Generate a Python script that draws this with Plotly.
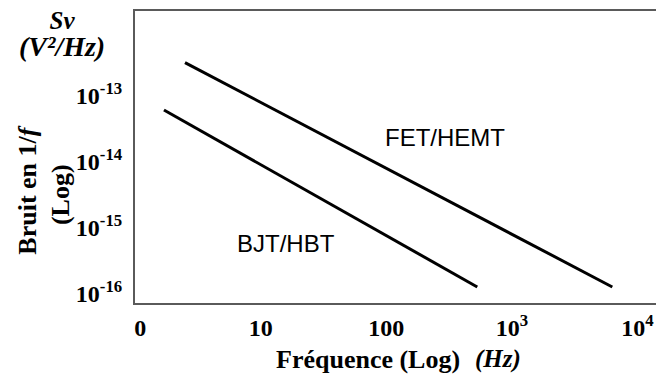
import plotly.graph_objects as go

# Axis ticks (frequency in Hz, noise density in V²/Hz)
freq_ticks = [1.1, 10, 100, 1000, 10000]
freq_labels = ["0", "10", "100", "10<sup>3</sup>", "10<sup>4</sup>"]
sv_ticks = [1e-13, 1e-14, 1e-15, 1e-16]
sv_labels = ["10<sup>-13</sup>", "10<sup>-14</sup>", "10<sup>-15</sup>", "10<sup>-16</sup>"]

# 1/f noise asymptotes for the two device families
fet_freq = [2.5, 6300]
fet_sv = [3.2e-13, 1.26e-16]
bjt_freq = [1.7, 530]
bjt_sv = [6.1e-14, 1.26e-16]

SERIF = "Liberation Serif"
SANS = "Liberation Sans"
FRAME = "#5a5a5a"

fig = go.Figure()
fig.add_trace(go.Scatter(x=fet_freq, y=fet_sv, mode="lines",
                         line=dict(color="black", width=3), hoverinfo="skip"))
fig.add_trace(go.Scatter(x=bjt_freq, y=bjt_sv, mode="lines",
                         line=dict(color="black", width=3), hoverinfo="skip"))

fig.update_layout(
    width=656, height=378,
    margin=dict(l=135, r=0, t=11, b=75),
    paper_bgcolor="white", plot_bgcolor="white",
    showlegend=False,
    xaxis=dict(
        type="log", range=[0, 4.147],
        tickvals=freq_ticks, ticktext=freq_labels,
        tickfont=dict(family=SERIF, size=24, color="black", weight="bold"),
        ticks="", ticklabelstandoff=2,
        showgrid=False, zeroline=False,
        showline=True, linecolor=FRAME, linewidth=2, mirror=True,
    ),
    yaxis=dict(
        type="log", range=[-16.143, -11.712],
        tickvals=sv_ticks, ticktext=sv_labels,
        tickfont=dict(family=SERIF, size=24, color="black", weight="bold"),
        ticks="", ticklabelstandoff=6,
        showgrid=False, zeroline=False,
        showline=True, linecolor=FRAME, linewidth=2, mirror=False,
    ),
)

# Curve labels, placed in log10 data units
fig.add_annotation(x=2.466, y=-13.639, xref="x", yref="y", text="FET/HEMT",
                   showarrow=False, font=dict(family=SANS, size=24, color="black"))
fig.add_annotation(x=1.199, y=-15.24, xref="x", yref="y", text="BJT/HBT",
                   showarrow=False, font=dict(family=SANS, size=24, color="black"))

# Axis titles
def paper_note(text, x, y, size, angle=0):
    fig.add_annotation(x=x, y=y, xref="paper", yref="paper", text=text,
                       showarrow=False, textangle=angle,
                       xanchor="center", yanchor="middle",
                       font=dict(family=SERIF, size=size, color="black", weight="bold"))

# Quantity and unit stacked as one block above the y axis
paper_note("<i><span style='font-size:25px'>Sv</span><br>"
           "<span style='font-size:28px'>(V²/Hz)</span></i>",
           -0.14, 0.919, 21)
paper_note("Bruit en 1/<i>f</i>", -0.206, 0.387, 26, angle=-90)
paper_note("(Log)", -0.144, 0.373, 26, angle=-90)
paper_note("Fréquence (Log)", 0.447, -0.192, 26)
paper_note("<i>(Hz)</i>", 0.697, -0.192, 25)

fig.write_html("out.html")
